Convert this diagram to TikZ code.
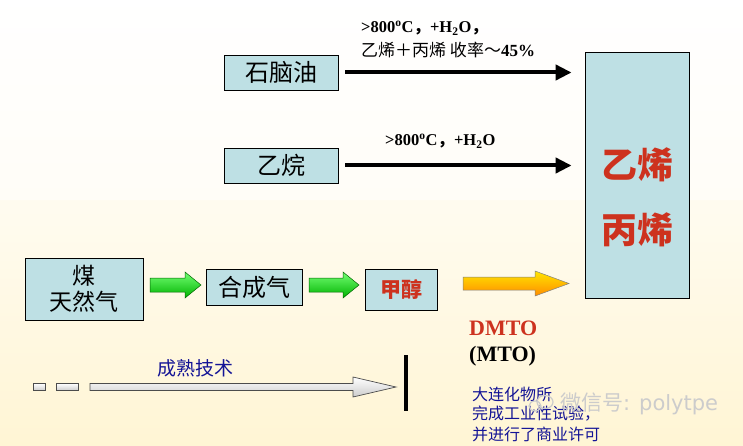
\documentclass[tikz,border=0pt]{standalone}
\usepackage{fontspec}
\setmainfont{Liberation Serif}
\newfontfamily\cjk{Noto Sans CJK SC}
\newfontfamily\wmfont{DejaVu Sans}
\usetikzlibrary{arrows.meta,calc}
\definecolor{boxfill}{RGB}{190,224,228}
\definecolor{olered}{RGB}{205,50,30}
\definecolor{navy}{RGB}{20,20,150}
\definecolor{cream}{RGB}{255,245,212}
\tikzset{
  procbox/.style={draw=black,line width=0.8pt,fill=boxfill,inner sep=0pt,align=center,font=\cjk\fontsize{24}{27}\selectfont},
  greenblock/.style={draw=green!40!black,line width=0.5pt,top color=green!55!white,bottom color=green!70!black,shading angle=0},
  yellowblock/.style={draw=black!50,line width=0.5pt,top color=yellow!80!orange,bottom color=orange!90!yellow,shading angle=0},
  openblock/.style={draw=black!70,line width=0.7pt,top color=white,bottom color=black!20,shading angle=0},
  heavyarrow/.style={line width=4pt,-{Triangle[length=16pt,width=15pt]}},
  condlabel/.style={anchor=west,inner sep=0pt,font=\bfseries\fontsize{16.5}{18}\selectfont},
  bluetext/.style={anchor=west,inner sep=0pt,text=navy,font=\cjk\fontsize{16}{18}\selectfont},
  bigtext/.style={inner sep=0pt,text=olered,font=\cjk\bfseries\fontsize{36}{40}\selectfont},
}
\begin{document}
\begin{tikzpicture}[x=1pt,y=-1pt]
\useasboundingbox (0,0) rectangle (743,446);
\shade[top color=white,bottom color=cream,middle color=white!60!cream] (0,0) rectangle (743,446);
\fill[white,opacity=0.5] (0,0) rectangle (743,200);

% boxes
\node[procbox,minimum width=114pt,minimum height=35pt] (naphtha) at (281,72.5) {石脑油};
\node[procbox,minimum width=114pt,minimum height=35pt] (ethane) at (281,165.5) {乙烷};
\node[draw=black,line width=0.8pt,fill=boxfill,minimum width=104pt,minimum height=246pt,inner sep=0pt] (olefin) at (637,175) {};
\node[bigtext] (ethylene) at (637.5,165) {乙烯};
\node[bigtext] (propylene) at (637.5,230) {丙烯};

\node[procbox,minimum width=118pt,minimum height=62pt,font=\cjk\fontsize{23}{26}\selectfont] (coal) at (84,289) {煤\\天然气};
\node[procbox,minimum width=96pt,minimum height=36pt] (syngas) at (254,287) {合成气};
\node[procbox,minimum width=72pt,minimum height=41pt,font=\cjk\bfseries\fontsize{21}{24}\selectfont,text=olered] (methanol) at (401,289.5) {甲醇};

% heavy black arrows
\draw[heavyarrow,shorten <=7pt,shorten >=13pt] (naphtha.east) -- (naphtha.east -| olefin.west);
\draw[heavyarrow,shorten <=7pt,shorten >=13pt] (ethane.east) -- (ethane.east -| olefin.west);

% condition labels
\node[condlabel] (c1a) at (361,28) {>800\textsuperscript{o}C{\cjk ，}+H\textsubscript{2}O{\cjk ，}};
\node[condlabel,font=\cjk\fontsize{17}{19}\selectfont] (c1b) at (361,50) {乙烯＋丙烯 收率～{\rmfamily\bfseries 45\%}};
\node[condlabel] (c2) at (385,141) {>800\textsuperscript{o}C{\cjk ，}+H\textsubscript{2}O};

% green block arrows
\path[greenblock] (150,278) -- (185,278) -- (185,272) -- (201,285) -- (185,298) -- (185,292) -- (150,292) -- cycle;
\path[greenblock] (309,278) -- (343,278) -- (343,272) -- (359,285) -- (343,298) -- (343,292) -- (309,292) -- cycle;
% yellow block arrow
\path[yellowblock] (463,277) -- (535,277) -- (535,271) -- (569,283.5) -- (535,296) -- (535,290) -- (463,290) -- cycle;

% DMTO
\node[anchor=west,inner sep=0pt,text=olered,font=\bfseries\fontsize{22}{24}\selectfont] (dmto) at (469,328) {DMTO};
\node[anchor=west,inner sep=0pt,font=\bfseries\fontsize{22}{24}\selectfont] (mto) at (469,356) {(MTO)};
\node[bluetext] (b1) at (472,394) {大连化物所};
\node[bluetext] (b2) at (472,414) {完成工业性试验，};
\node[bluetext] (b3) at (472,434) {并进行了商业许可};

% watermark
\node[anchor=west,inner sep=0pt,text=black!20,font=\wmfont\fontsize{21}{24}\selectfont] (wm) at (560,404) {\cjk 微信号\wmfont : polytpe};
\draw[black!20,line width=1.2pt] (545,402) ellipse (8 and 6.5);
\draw[black!20,line width=1.2pt] (535,406) ellipse (6 and 5);

% mature technology arrow
\node[inner sep=0pt,text=navy,font=\cjk\fontsize{19}{21}\selectfont] (mature) at (195,368) {成熟技术};
\path[openblock] (33,383.5) rectangle (45,390.5);
\path[openblock] (56,383.5) rectangle (78,390.5);
\path[openblock] (90,383.5) -- (353,383.5) -- (353,377) -- (396,387) -- (353,397) -- (353,390.5) -- (90,390.5) -- cycle;
\coordinate (bartop) at (406,355);
\coordinate (barbot) at (406,411);
\draw[black,line width=3.5pt] (bartop) -- (barbot);
\end{tikzpicture}
\end{document}
